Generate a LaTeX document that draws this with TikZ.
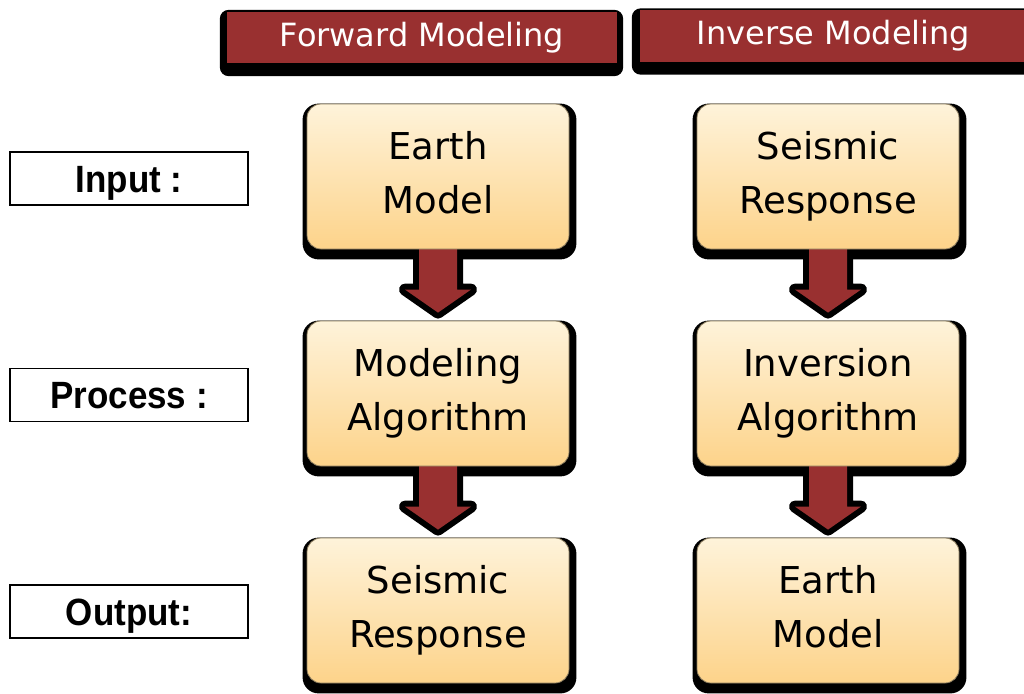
\documentclass[tikz,border=0pt]{standalone}
\usepackage{fontspec}
\setmainfont{DejaVu Sans}
\newfontfamily\labelfont[FakeStretch=0.92]{Liberation Sans}
\usetikzlibrary{calc}
\definecolor{hdrred}{RGB}{153,48,48}
\definecolor{boxtop}{RGB}{254,243,218}
\definecolor{boxbot}{RGB}{253,211,138}
\definecolor{boxedge}{RGB}{140,125,95}
\pgfdeclarelayer{shadowlayer}
\pgfdeclarelayer{arrowlayer}
\pgfsetlayers{shadowlayer,arrowlayer,main}
\tikzset{
  stepbox/.style={rounded corners=14pt, draw=boxedge, line width=0.8pt,
    top color=boxtop, bottom color=boxbot, minimum width=262pt, minimum height=145pt,
    inner sep=0pt, align=center, font=\fontsize{37}{54}\selectfont,
    execute at end node={\vphantom{g}}},
  header/.style={fill=hdrred, text=white, minimum width=390pt, minimum height=51pt,
    inner sep=0pt, font=\fontsize{32}{36}\selectfont},
  rowlabel/.style={draw=black, line width=1.3pt, fill=white, minimum width=238pt,
    minimum height=53pt, inner sep=0pt, text height=27pt, text depth=0pt,
    font=\labelfont\bfseries\fontsize{38}{40}\selectfont},
  hshadow/.style={fill=black, rounded corners=9pt},
  bshadow/.style={fill=black, rounded corners=16pt},
  flowarrow/.style={fill=hdrred, preaction={draw=black, line width=12pt, line join=round}}
}
\newcommand{\flowconn}[2]{%
  \path[flowarrow] ($(#1.south)+(-19,-5)$) -- ($(#1.south)+(19,-5)$)
    -- ($(#2.north)+(19,-31)$) -- ($(#2.north)+(33,-31)$)
    -- ($(#2.north)+(0,-8)$) -- ($(#2.north)+(-33,-31)$)
    -- ($(#2.north)+(-19,-31)$) -- cycle;}
\begin{document}
\begin{tikzpicture}[x=1pt,y=-1pt]
\useasboundingbox (0,0) rectangle (1024,693);
% headers
\node[header] (fwd) at (422,37.5) {Forward Modeling};
\node[header, minimum width=400pt] (inv) at (840,36) {\hspace*{-13pt}Inverse Modeling};
% row labels
\node[rowlabel] (lin) at (129,178.5) {Input :};
\node[rowlabel] (lpr) at (129,395) {Process :};
\node[rowlabel] (lout) at (129,611.5) {Output:};
% forward column
\node[stepbox] (f1) at (438,176.5) {Earth\\Model};
\node[stepbox] (f2) at (438,393.5) {Modeling\\Algorithm};
\node[stepbox] (f3) at (438,610.5) {Seismic\\Response};
% inverse column
\node[stepbox] (i1) at (828,176.5) {Seismic\\Response};
\node[stepbox] (i2) at (828,393.5) {Inversion\\Algorithm};
\node[stepbox] (i3) at (828,610.5) {Earth\\Model};
\begin{pgfonlayer}{shadowlayer}
  \fill[hshadow] ($(fwd.north west)+(-7,-2)$) rectangle ($(fwd.south east)+(6,13)$);
  \fill[hshadow] ($(inv.north west)+(-8,-2)$) rectangle ($(inv.south east)+(20,13)$);
  \foreach \n in {f1,f2,f3,i1,i2,i3}
    \fill[bshadow] ($(\n.north west)+(-4,0)$) rectangle ($(\n.south east)+(7,10)$);
\end{pgfonlayer}
\begin{pgfonlayer}{arrowlayer}
  \flowconn{f1}{f2}
  \flowconn{f2}{f3}
  \flowconn{i1}{i2}
  \flowconn{i2}{i3}
\end{pgfonlayer}
\end{tikzpicture}
\end{document}
